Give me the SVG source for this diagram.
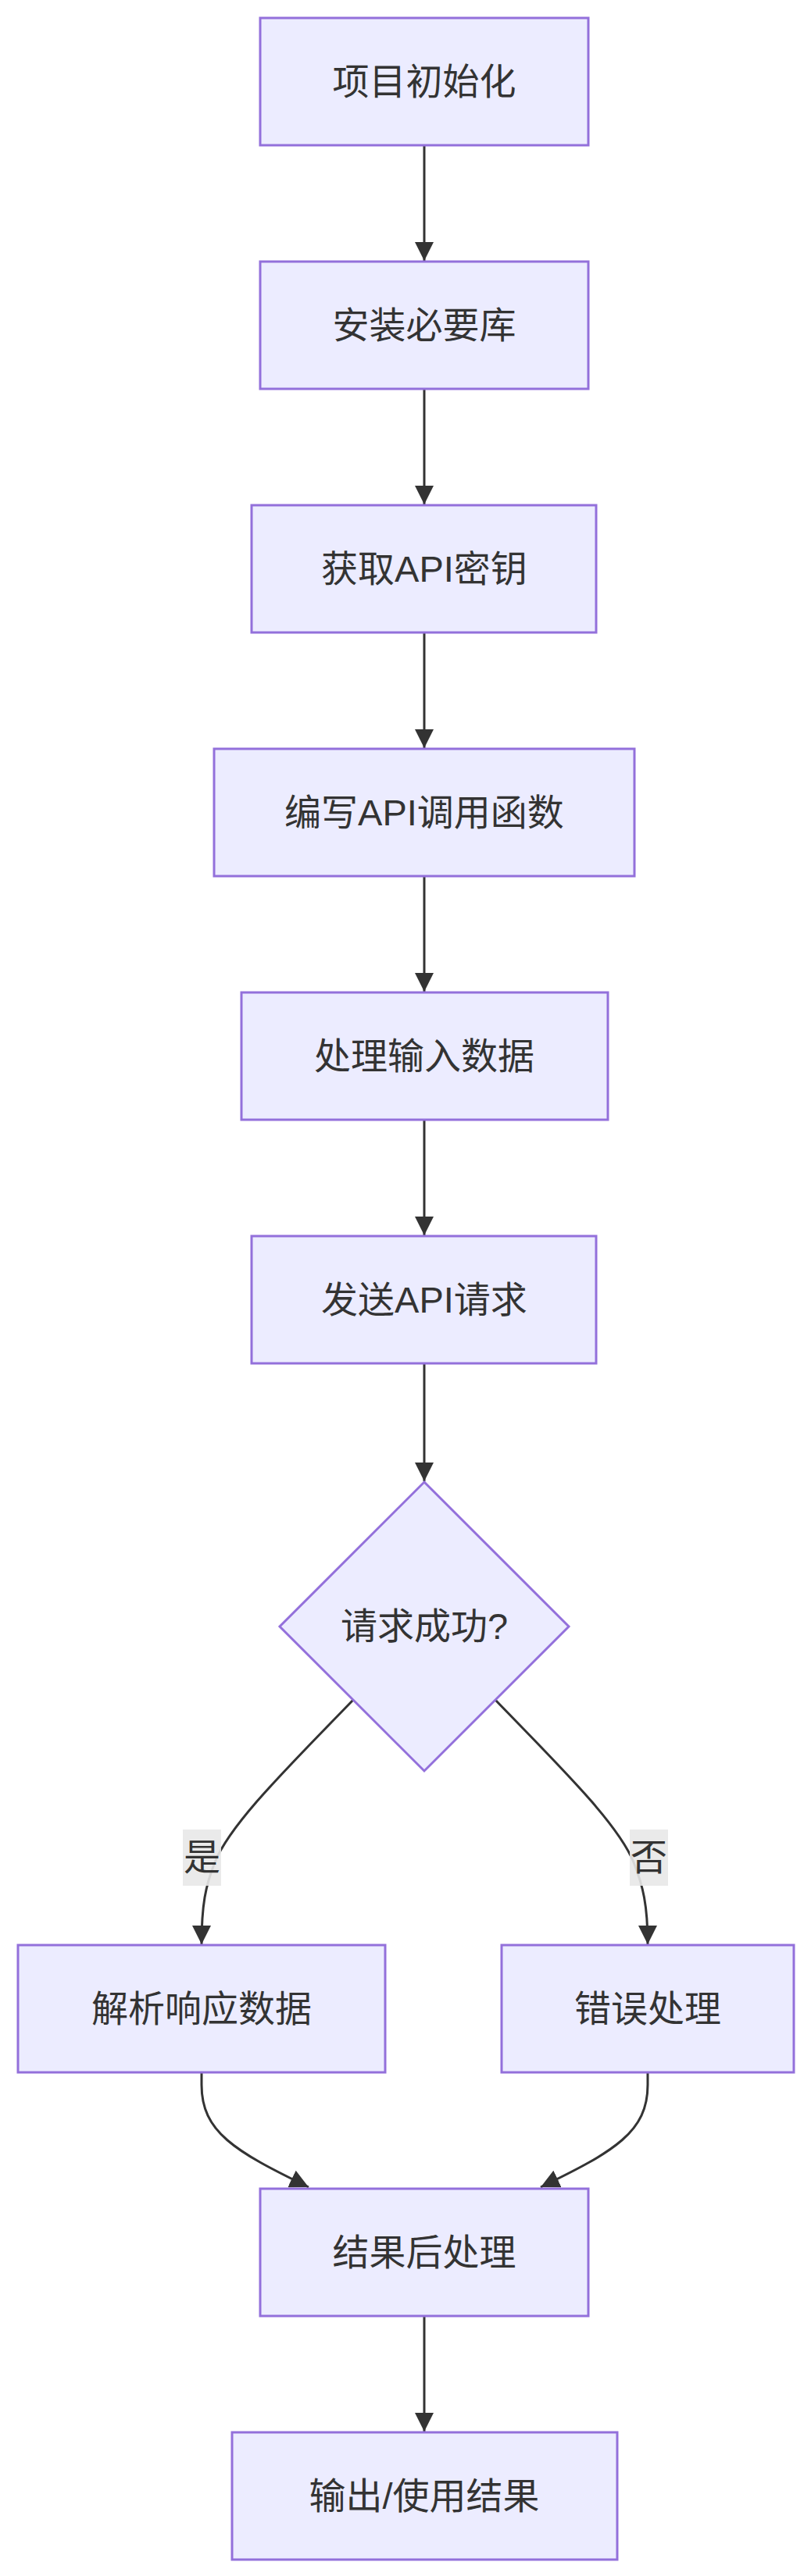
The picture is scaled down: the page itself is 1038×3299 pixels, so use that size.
<svg xmlns="http://www.w3.org/2000/svg" width="1038" height="3299" viewBox="0 0 1038 3299">
<style>
.node rect,.node polygon{fill:#ECECFF;stroke:#9370DB;stroke-width:3}
.node text,.lbl text{font-family:"Liberation Sans","Noto Sans CJK SC",sans-serif;font-size:47px;fill:#333;text-anchor:middle;dominant-baseline:central}
.edge{fill:none;stroke:#333;stroke-width:3}
.lbl rect{fill:#e8e8e8;opacity:0.9}
</style>
<defs>
<marker id="arr" viewBox="0 0 10 10" refX="10" refY="5" markerUnits="userSpaceOnUse" markerWidth="24" markerHeight="24" orient="auto">
<path d="M0,0 L10,5 L0,10 z" fill="#333"/>
</marker>
</defs>
<rect width="1038" height="3299" fill="#fff"/>
<g id="connectors">
<path class="edge" d="M543,187 L543,334" marker-end="url(#arr)"/>
<path class="edge" d="M543,499 L543,646" marker-end="url(#arr)"/>
<path class="edge" d="M543,811 L543,958" marker-end="url(#arr)"/>
<path class="edge" d="M543,1123 L543,1270" marker-end="url(#arr)"/>
<path class="edge" d="M543,1435 L543,1582" marker-end="url(#arr)"/>
<path class="edge" d="M543,1747 L543,1897" marker-end="url(#arr)"/>
<path class="edge" d="M452,2177 C370,2262 295,2335 275,2385 C263,2415 258,2440 258,2490" marker-end="url(#arr)"/>
<path class="edge" d="M634,2177 C716,2262 791,2335 811,2385 C823,2415 829,2440 829,2490" marker-end="url(#arr)"/>
<path class="edge" d="M258,2655 L258,2670 C258,2730 300,2755 395,2801" marker-end="url(#arr)"/>
<path class="edge" d="M829,2655 L829,2670 C829,2730 787,2755 692,2801" marker-end="url(#arr)"/>
<path class="edge" d="M543,2967 L543,3114" marker-end="url(#arr)"/>
<g class="lbl"><rect x="234" y="2343" width="49" height="72"/><text x="258.5" y="2378">是</text></g>
<g class="lbl"><rect x="806" y="2343" width="49" height="72"/><text x="830.5" y="2378">否</text></g>
</g>
<g id="n1" class="node"><rect x="333" y="23" width="420" height="163"/><text x="543" y="104">项目初始化</text></g>
<g id="n2" class="node"><rect x="333" y="335" width="420" height="163"/><text x="543" y="416">安装必要库</text></g>
<g id="n3" class="node"><rect x="322" y="647" width="441" height="163"/><text x="543" y="728">获取API密钥</text></g>
<g id="n4" class="node"><rect x="274" y="959" width="538" height="163"/><text x="543" y="1040">编写API调用函数</text></g>
<g id="n5" class="node"><rect x="309" y="1271" width="469" height="163"/><text x="543" y="1352">处理输入数据</text></g>
<g id="n6" class="node"><rect x="322" y="1583" width="441" height="163"/><text x="543" y="1664">发送API请求</text></g>
<g id="n7" class="node"><polygon points="543,1898 728,2083 543,2268 358,2083"/><text x="543" y="2082">请求成功?</text></g>
<g id="n8" class="node"><rect x="23" y="2491" width="470" height="163"/><text x="258" y="2572">解析响应数据</text></g>
<g id="n9" class="node"><rect x="642" y="2491" width="374" height="163"/><text x="829" y="2572">错误处理</text></g>
<g id="n10" class="node"><rect x="333" y="2803" width="420" height="163"/><text x="543" y="2884">结果后处理</text></g>
<g id="n11" class="node"><rect x="297" y="3115" width="493" height="163"/><text x="543" y="3196">输出/使用结果</text></g>
</svg>
